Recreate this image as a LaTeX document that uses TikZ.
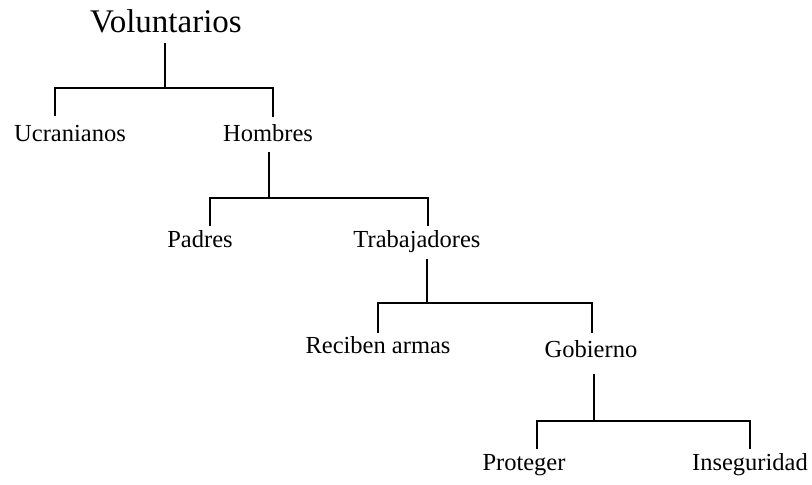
\documentclass[tikz,border=0pt]{standalone}
\usepackage{fontspec}
\setmainfont{Liberation Serif}
\begin{document}
\begin{tikzpicture}[x=1pt,y=-1pt,
  lbl/.style={anchor=base,inner sep=0pt,font=\fontsize{24.5}{28}\selectfont},
  big/.style={anchor=base,inner sep=0pt,font=\fontsize{33}{38}\selectfont},
  conn/.style={line width=2.2pt,line cap=rect}]
\useasboundingbox (0,0) rectangle (812,485);
% nodes
\node[big] (vol) at (166,32) {Voluntarios};
\node[lbl] (ucr) at (70,141) {Ucranianos};
\node[lbl] (hom) at (268,141) {Hombres};
\node[lbl] (pad) at (200,247) {Padres};
\node[lbl] (tra) at (417,247) {Trabajadores};
\node[lbl] (rec) at (378,353) {Reciben armas};
\node[lbl] (gob) at (591,357) {Gobierno};
\node[lbl] (pro) at (524,470) {Proteger};
\node[lbl] (ins) at (750,470) {Inseguridad};
% junction coordinates
\coordinate (v0) at (165,44);
\coordinate (v1) at (165,88);
\coordinate (ucrL) at (55,88);
\coordinate (ucrE) at (55,115);
\coordinate (homL) at (273,88);
\coordinate (homE) at (273,116);
\coordinate (h0) at (269,153);
\coordinate (h1) at (269,198);
\coordinate (padL) at (210,198);
\coordinate (padE) at (210,225);
\coordinate (traL) at (428,198);
\coordinate (traE) at (428,225);
\coordinate (t0) at (427,260);
\coordinate (t1) at (427,303);
\coordinate (recL) at (378,303);
\coordinate (recE) at (378,332);
\coordinate (gobL) at (592,303);
\coordinate (gobE) at (592,332);
\coordinate (g0) at (594,375);
\coordinate (g1) at (594,421);
\coordinate (proL) at (537,421);
\coordinate (proE) at (537,448);
\coordinate (insL) at (750,421);
\coordinate (insE) at (750,448);
% connectors
\draw[conn] (v0) -- (v1);
\draw[conn] (ucrE) -- (ucrL) -- (homL) -- (homE);
\draw[conn] (h0) -- (h1);
\draw[conn] (padE) -- (padL) -- (traL) -- (traE);
\draw[conn] (t0) -- (t1);
\draw[conn] (recE) -- (recL) -- (gobL) -- (gobE);
\draw[conn] (g0) -- (g1);
\draw[conn] (proE) -- (proL) -- (insL) -- (insE);
\end{tikzpicture}
\end{document}
